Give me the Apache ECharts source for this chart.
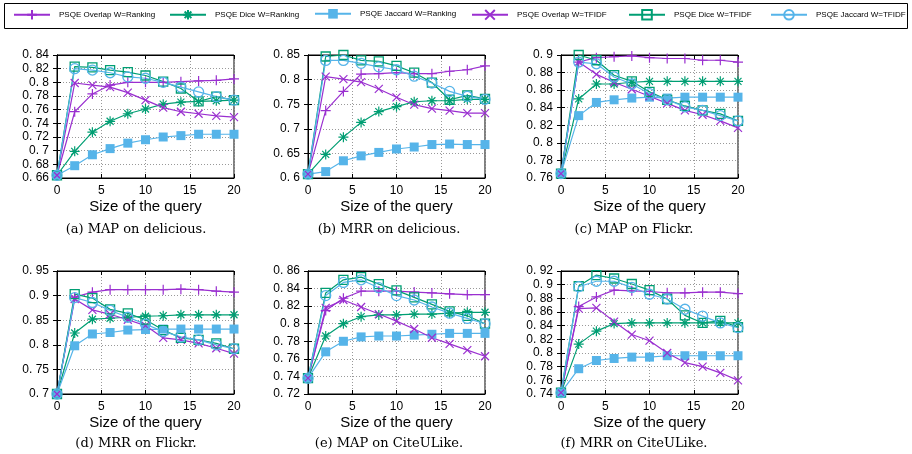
<!DOCTYPE html>
<html>
<head>
<meta charset="utf-8">
<script src="https://cdn.jsdelivr.net/npm/echarts@6.0.0/dist/echarts.min.js"></script>
<style>
  html, body { margin: 0; padding: 0; background: #fff; }
  #chart { width: 912px; height: 454px; }
</style>
</head>
<body>
<div id="chart"></div>
<script>
// query sizes on the x axis
const xSizes = [0, 2, 4, 6, 8, 10, 12, 14, 16, 18, 20];

const seriesNames = [
  'PSQE Overlap W=Ranking',
  'PSQE Dice W=Ranking',
  'PSQE Jaccard W=Ranking',
  'PSQE Overlap W=TFIDF',
  'PSQE Dice W=TFIDF',
  'PSQE Jaccard W=TFIDF',
];

const captions = [
  '(a) MAP on delicious.',
  '(b) MRR on delicious.',
  '(c) MAP on Flickr.',
  '(d) MRR on Flickr.',
  '(e) MAP on CiteULike.',
  '(f) MRR on CiteULike.',
];

// y tick values for each panel
const ticksA = [0.66, 0.68, 0.7, 0.72, 0.74, 0.76, 0.78, 0.8, 0.82, 0.84];
const ticksB = [0.6, 0.65, 0.7, 0.75, 0.8, 0.85];
const ticksC = [0.76, 0.78, 0.8, 0.82, 0.84, 0.86, 0.88, 0.9];
const ticksD = [0.7, 0.75, 0.8, 0.85, 0.9, 0.95];
const ticksE = [0.72, 0.74, 0.76, 0.78, 0.8, 0.82, 0.84, 0.86];
const ticksF = [0.74, 0.76, 0.78, 0.8, 0.82, 0.84, 0.86, 0.88, 0.9, 0.92];

// (a) MAP on delicious
const aOverlapRank = [0.664, 0.757, 0.783, 0.796, 0.800, 0.800, 0.800, 0.801, 0.802, 0.803, 0.805];
const aDiceRank    = [0.664, 0.699, 0.727, 0.743, 0.754, 0.761, 0.768, 0.771, 0.772, 0.773, 0.774];
const aJaccRank    = [0.664, 0.678, 0.694, 0.703, 0.711, 0.716, 0.720, 0.722, 0.724, 0.724, 0.724];
const aOverlapTf   = [0.664, 0.799, 0.796, 0.793, 0.785, 0.774, 0.763, 0.757, 0.754, 0.751, 0.749];
const aDiceTf      = [0.664, 0.823, 0.822, 0.818, 0.815, 0.810, 0.801, 0.791, 0.772, 0.779, 0.774];
const aJaccTf      = [0.664, 0.820, 0.818, 0.814, 0.808, 0.806, 0.800, 0.793, 0.786, 0.779, 0.774];

// (b) MRR on delicious
const bOverlapRank = [0.608, 0.737, 0.776, 0.811, 0.812, 0.814, 0.812, 0.812, 0.817, 0.820, 0.828];
const bDiceRank    = [0.608, 0.648, 0.683, 0.713, 0.735, 0.745, 0.755, 0.757, 0.757, 0.760, 0.760];
const bJaccRank    = [0.608, 0.613, 0.635, 0.645, 0.652, 0.659, 0.663, 0.668, 0.669, 0.668, 0.668];
const bOverlapTf   = [0.608, 0.806, 0.801, 0.795, 0.781, 0.764, 0.749, 0.741, 0.737, 0.732, 0.732];
const bDiceTf      = [0.608, 0.847, 0.850, 0.839, 0.837, 0.828, 0.814, 0.794, 0.759, 0.768, 0.761];
const bJaccTf      = [0.608, 0.839, 0.839, 0.833, 0.826, 0.820, 0.807, 0.793, 0.776, 0.766, 0.760];

// (c) MAP on Flickr
const cOverlapRank = [0.765, 0.892, 0.897, 0.898, 0.899, 0.897, 0.896, 0.896, 0.894, 0.894, 0.892];
const cDiceRank    = [0.765, 0.850, 0.867, 0.867, 0.869, 0.870, 0.870, 0.870, 0.870, 0.870, 0.870];
const cJaccRank    = [0.765, 0.831, 0.846, 0.849, 0.851, 0.852, 0.851, 0.852, 0.852, 0.852, 0.852];
const cOverlapTf   = [0.765, 0.892, 0.878, 0.869, 0.861, 0.853, 0.845, 0.837, 0.832, 0.825, 0.817];
const cDiceTf      = [0.765, 0.900, 0.894, 0.877, 0.870, 0.858, 0.849, 0.842, 0.837, 0.833, 0.825];
const cJaccTf      = [0.765, 0.892, 0.890, 0.875, 0.867, 0.856, 0.849, 0.841, 0.837, 0.831, 0.825];

// (d) MRR on Flickr
const dOverlapRank = [0.700, 0.897, 0.907, 0.912, 0.912, 0.912, 0.912, 0.913, 0.912, 0.909, 0.907];
const dDiceRank    = [0.700, 0.824, 0.852, 0.854, 0.856, 0.858, 0.859, 0.861, 0.861, 0.861, 0.861];
const dJaccRank    = [0.700, 0.798, 0.822, 0.825, 0.830, 0.831, 0.832, 0.832, 0.832, 0.832, 0.832];
const dOverlapTf   = [0.700, 0.893, 0.871, 0.862, 0.851, 0.839, 0.814, 0.810, 0.803, 0.793, 0.782];
const dDiceTf      = [0.700, 0.903, 0.895, 0.872, 0.864, 0.851, 0.830, 0.814, 0.810, 0.803, 0.792];
const dJaccTf      = [0.700, 0.896, 0.886, 0.870, 0.856, 0.842, 0.827, 0.816, 0.810, 0.800, 0.792];

// (e) MAP on CiteULike
const eOverlapRank = [0.738, 0.815, 0.829, 0.837, 0.837, 0.837, 0.836, 0.835, 0.834, 0.833, 0.833];
const eDiceRank    = [0.738, 0.786, 0.800, 0.808, 0.810, 0.810, 0.811, 0.811, 0.812, 0.813, 0.813];
const eJaccRank    = [0.738, 0.768, 0.780, 0.785, 0.786, 0.786, 0.787, 0.788, 0.789, 0.789, 0.789];
const eOverlapTf   = [0.738, 0.818, 0.827, 0.819, 0.811, 0.803, 0.794, 0.784, 0.777, 0.770, 0.763];
const eDiceTf      = [0.738, 0.835, 0.850, 0.853, 0.845, 0.838, 0.830, 0.822, 0.814, 0.809, 0.800];
const eJaccTf      = [0.738, 0.832, 0.847, 0.850, 0.841, 0.832, 0.827, 0.819, 0.812, 0.806, 0.800];

// (f) MRR on CiteULike
const fOverlapRank = [0.742, 0.868, 0.882, 0.892, 0.891, 0.890, 0.888, 0.888, 0.889, 0.889, 0.887];
const fDiceRank    = [0.742, 0.813, 0.832, 0.843, 0.844, 0.844, 0.844, 0.844, 0.844, 0.844, 0.844];
const fJaccRank    = [0.742, 0.777, 0.789, 0.792, 0.794, 0.794, 0.796, 0.796, 0.796, 0.796, 0.796];
const fOverlapTf   = [0.742, 0.865, 0.866, 0.846, 0.827, 0.818, 0.800, 0.786, 0.780, 0.771, 0.760];
const fDiceTf      = [0.742, 0.898, 0.914, 0.909, 0.901, 0.892, 0.879, 0.855, 0.844, 0.847, 0.838];
const fJaccTf      = [0.742, 0.897, 0.905, 0.905, 0.896, 0.886, 0.879, 0.864, 0.854, 0.844, 0.837];

const panels = [
  { ticks: ticksA, lines: [aOverlapRank, aDiceRank, aJaccRank, aOverlapTf, aDiceTf, aJaccTf] },
  { ticks: ticksB, lines: [bOverlapRank, bDiceRank, bJaccRank, bOverlapTf, bDiceTf, bJaccTf] },
  { ticks: ticksC, lines: [cOverlapRank, cDiceRank, cJaccRank, cOverlapTf, cDiceTf, cJaccTf] },
  { ticks: ticksD, lines: [dOverlapRank, dDiceRank, dJaccRank, dOverlapTf, dDiceTf, dJaccTf] },
  { ticks: ticksE, lines: [eOverlapRank, eDiceRank, eJaccRank, eOverlapTf, eDiceTf, eJaccTf] },
  { ticks: ticksF, lines: [fOverlapRank, fDiceRank, fJaccRank, fOverlapTf, fDiceTf, fJaccTf] },
];

const PURPLE = '#9a2fd0';
const GREEN = '#009e73';
const BLUE = '#56b4e9';

// gnuplot-like point types
const PLUS = 'path://M0,5L10,5M5,0L5,10';
const CROSS = 'path://M0,0L10,10M0,10L10,0';
const STAR = 'path://M0,5L10,5M5,0L5,10M1.5,1.5L8.5,8.5M1.5,8.5L8.5,1.5';

const styles = [
  { color: PURPLE, symbol: PLUS, size: 10, fill: PURPLE, bw: 1.2 },
  { color: GREEN, symbol: STAR, size: 10, fill: GREEN, bw: 1.2 },
  { color: BLUE, symbol: 'rect', size: 9, fill: BLUE, bw: 0 },
  { color: PURPLE, symbol: CROSS, size: 8, fill: PURPLE, bw: 1.2 },
  { color: GREEN, symbol: 'rect', size: 9, fill: 'rgba(0,0,0,0)', bw: 1.3 },
  { color: BLUE, symbol: 'circle', size: 10, fill: 'rgba(0,0,0,0)', bw: 1.3 },
];

const colLeft = [57, 308, 561];
const rowTop = [55, 271];
const gridW = 177;
const gridH = 123;
const captionX = [136, 389, 634];
const captionY = [230, 444];
const legendLeft = [13, 169, 314, 471, 628, 770];

const FONT = '"Liberation Sans", Helvetica, Arial, sans-serif';

const fmtTick = (v) => (+v.toFixed(2)).toString().replace('.', '. ');

const grids = [];
const xAxes = [];
const yAxes = [];
const series = [];
const graphics = [
  {
    type: 'rect',
    shape: { x: 4.5, y: 3.5, width: 903, height: 25 },
    style: { fill: 'none', stroke: '#000', lineWidth: 1 },
  },
];

panels.forEach((panel, p) => {
  const col = p % 3;
  const row = Math.floor(p / 3);
  const ticks = panel.ticks;
  const step = +(ticks[1] - ticks[0]).toFixed(4);

  grids.push({
    left: colLeft[col],
    top: rowTop[row],
    width: gridW,
    height: gridH,
    show: true,
    borderColor: '#000',
    borderWidth: 1,
    outerBoundsMode: 'none',
  });

  const tick = { show: true, inside: true, length: 4, lineStyle: { color: '#000' } };

  xAxes.push({
    type: 'value',
    gridIndex: p,
    min: 0,
    max: 20,
    interval: 5,
    axisLine: { show: true, lineStyle: { color: '#000' } },
    axisTick: tick,
    axisLabel: { fontSize: 12, color: '#000', margin: 7, fontFamily: FONT },
    splitLine: { show: true, lineStyle: { color: '#999', type: [1, 2] } },
    name: 'Size of the query',
    nameLocation: 'middle',
    nameGap: 21,
    nameTextStyle: { fontSize: 15, color: '#000', fontFamily: FONT },
  });
  xAxes.push({
    type: 'value',
    gridIndex: p,
    position: 'top',
    min: 0,
    max: 20,
    interval: 5,
    axisLine: { show: true, lineStyle: { color: '#000' } },
    axisTick: tick,
    axisLabel: { show: false },
    splitLine: { show: false },
  });

  yAxes.push({
    type: 'value',
    gridIndex: p,
    min: ticks[0],
    max: ticks[ticks.length - 1],
    interval: step,
    axisLine: { show: true, lineStyle: { color: '#000' } },
    axisTick: tick,
    axisLabel: { fontSize: 12, color: '#000', margin: 8, fontFamily: FONT, formatter: fmtTick },
    splitLine: { show: true, lineStyle: { color: '#999', type: [1, 2] } },
  });
  yAxes.push({
    type: 'value',
    gridIndex: p,
    position: 'right',
    min: ticks[0],
    max: ticks[ticks.length - 1],
    interval: step,
    axisLine: { show: true, lineStyle: { color: '#000' } },
    axisTick: tick,
    axisLabel: { show: false },
    splitLine: { show: false },
  });

  panel.lines.forEach((vals, s) => {
    const st = styles[s];
    series.push({
      name: seriesNames[s],
      type: 'line',
      xAxisIndex: p * 2,
      yAxisIndex: p * 2,
      data: xSizes.map((x, i) => [x, vals[i]]),
      symbol: st.symbol,
      symbolSize: st.size,
      showAllSymbol: true,
      clip: false,
      lineStyle: { color: st.color, width: 1.2 },
      itemStyle: { color: st.fill, borderColor: st.color, borderWidth: st.bw },
      emphasis: { disabled: true },
    });
  });

  graphics.push({
    type: 'text',
    x: captionX[col],
    y: captionY[row],
    style: {
      text: captions[p],
      font: '13px "DejaVu Serif", serif',
      fill: '#000',
      align: 'center',
      verticalAlign: 'middle',
    },
  });
});

const legends = seriesNames.map((name, i) => ({
  data: [name],
  left: legendLeft[i],
  top: 9,
  padding: 0,
  itemWidth: 36,
  itemHeight: 12,
  itemGap: 0,
  selectedMode: false,
  textStyle: { fontSize: 8, color: '#000', fontFamily: FONT, padding: [0, 0, 0, 4] },
}));

const chart = echarts.init(document.getElementById('chart'));
chart.setOption({
  animation: false,
  backgroundColor: '#fff',
  legend: legends,
  grid: grids,
  xAxis: xAxes,
  yAxis: yAxes,
  series: series,
  graphic: graphics,
});
</script>
</body>
</html>
